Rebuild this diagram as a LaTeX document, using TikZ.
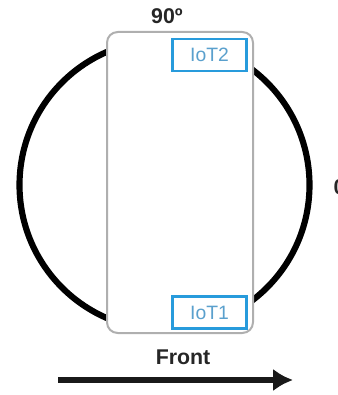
\documentclass[tikz,border=0pt]{standalone}
\usepackage{fontspec}
\setmainfont{Liberation Sans}
\usetikzlibrary{arrows.meta}
\definecolor{iotblue}{RGB}{40,155,220}
\definecolor{iottext}{RGB}{90,160,205}
\definecolor{framegray}{RGB}{175,175,175}
\tikzset{
  every picture/.style={
    x=0.75pt, y=-0.75pt,
    >={Latex[width=17pt, length=15pt]}
  },
  tag/.style={
    draw=iotblue, line width=2.2pt, fill=white,
    minimum width=56pt, minimum height=24pt,
    inner sep=0pt, text=iottext, font=\fontsize{14.5}{14.5}\selectfont
  },
  deg/.style={font=\bfseries\fontsize{16}{16}\selectfont, text=black!85}
}

\begin{document}
\begin{tikzpicture}
  \useasboundingbox (0,0) rectangle (338,395);
  \draw [line width=4.6pt] (164.5,185) circle (145);
  \node [draw=framegray, line width=1.5pt, fill=white, rounded corners=8pt,
         minimum width=109.5pt, minimum height=225.75pt] (board) at (180,182.5) {};
  \node [tag] (iot2) at (209.5,55) {IoT2};
  \node [tag] (iot1) at (209.5,312.5) {IoT1};
  \node [deg] (top) at (167,16) {90º};
  \node [deg, anchor=west] (right) at (329,187) {0º};
  \node [deg] (front) at (183,357) {Front};
  \coordinate (start) at (58,380);
  \coordinate (stop) at (293,380);
  \draw [->, line width=4.5pt, black!90] (start) -- (stop);
\end{tikzpicture}
\end{document}
